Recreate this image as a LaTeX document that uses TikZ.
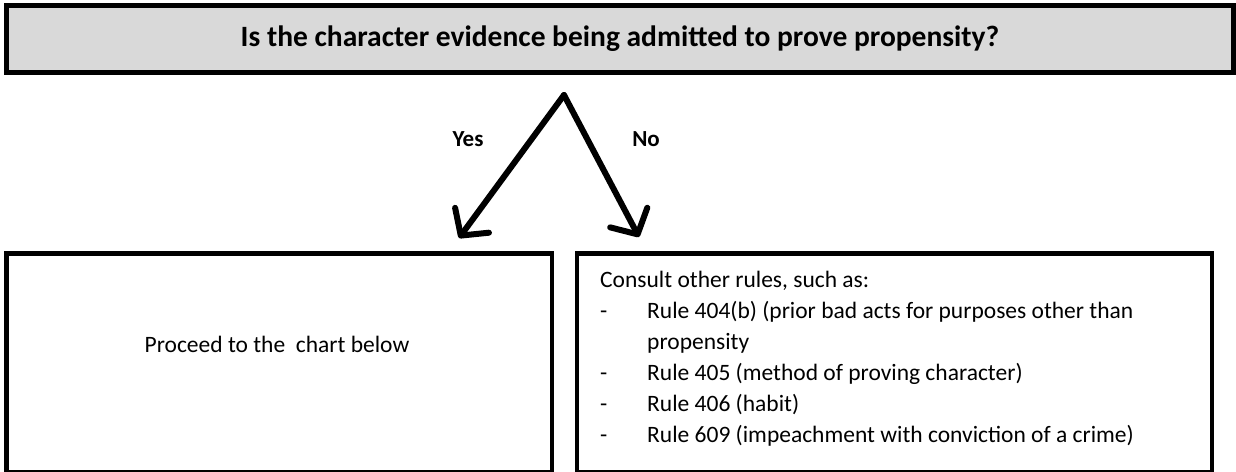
\documentclass[tikz,border=0pt]{standalone}
\usepackage{fontspec}
\setmainfont{Carlito}
\usetikzlibrary{arrows.meta, positioning}
\definecolor{qgray}{HTML}{D9D9D9}
\tikzset{
  qbox/.style={draw=black, fill=qgray, line width=5pt, inner sep=0pt, font=\fontsize{29.5}{34}\selectfont\bfseries},
  ansbox/.style={draw=black, line width=4.5pt, inner sep=0pt},
  branch/.style={line width=6pt, line cap=round, -{Straight Barb[length=19pt, width=42pt, round]}},
  lbl/.style={font=\fontsize{23}{27}\selectfont\bfseries},
  body/.style={font=\fontsize{23.5}{31}\selectfont}
}
\begin{document}
\begin{tikzpicture}[x=1pt, y=-1pt]
  \useasboundingbox (0,0) rectangle (1236,471);
  % Question
  \node[qbox, minimum width=1226.5pt, minimum height=67pt] (question) at (620, 39) {Is the character evidence being admitted to prove propensity?};

  % Answer boxes
  \node[ansbox, minimum width=545.5pt, minimum height=218.5pt] (yesbox) at (279.25, 362.75) {};
  \node[ansbox, minimum width=635pt, minimum height=218.5pt] (nobox) at (894.5, 362.75) {};

  % Arrows
  \coordinate (apex) at (564, 95);
  \coordinate (yestip) at (459, 238);
  \coordinate (notip) at (639, 237);
  \draw[branch] (apex) -- (yestip);
  \draw[branch] (apex) -- (notip);
  \node[lbl] (yes) at (468, 139) {Yes};
  \node[lbl] (no) at (646, 139) {No};

  % Texts
  \node[body] (proceed) at (277, 344) {Proceed to the\ \ chart below};
  \node[body, anchor=north west, align=left, inner sep=0pt] (rules) at (600, 271) {Consult other rules, such as:\\
    \makebox[47pt][l]{-}Rule 404(b) (prior bad acts for purposes other than\\
    \hspace*{47pt}propensity\\
    \makebox[47pt][l]{-}Rule 405 (method of proving character)\\
    \makebox[47pt][l]{-}Rule 406 (habit)\\
    \makebox[47pt][l]{-}Rule 609 (impeachment with conviction of a crime)};
\end{tikzpicture}
\end{document}
